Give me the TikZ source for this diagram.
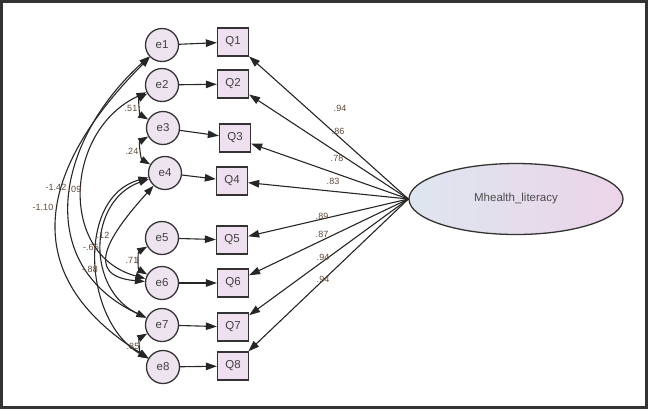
\documentclass[tikz,border=0pt]{standalone}
\usepackage{fontspec}
\setmainfont{Liberation Sans}
\usetikzlibrary{arrows.meta,shapes.geometric}
\definecolor{errfill}{RGB}{238,228,240}
\definecolor{boxfill}{RGB}{238,224,238}
\definecolor{latleft}{RGB}{222,230,240}
\definecolor{latright}{RGB}{236,212,232}
\definecolor{coeftext}{RGB}{95,72,56}
\tikzset{
	errnode/.style={circle, draw=black!80, line width=1.3pt, fill=errfill, minimum size=33pt, inner sep=0pt, text=black!75, font=\fontsize{11.5}{11.5}\selectfont},
	itembox/.style={rectangle, draw=black!80, line width=1.3pt, fill=boxfill, minimum width=31pt, minimum height=28pt, inner sep=0pt, text=black!75, font=\fontsize{11.5}{11.5}\selectfont},
	latent/.style={ellipse, draw=black!80, line width=1.3pt, left color=latleft, right color=latright, minimum width=214pt, minimum height=71pt, inner sep=0pt, text=black!70, font=\fontsize{11.5}{11.5}\selectfont},
	regarrow/.style={-{Triangle[length=11pt,width=7.5pt]}, line width=1.1pt, black!85},
	covarrow/.style={{Triangle[length=10pt,width=7pt]}-{Triangle[length=10pt,width=7pt]}, line width=1.1pt, black!85},
	coef/.style={inner sep=0pt, text=coeftext, font=\fontsize{9}{9}\selectfont}
}

\begin{document}
\begin{tikzpicture}[x=1pt, y=-1pt]
		%%%%% START %%%%%
		\useasboundingbox (0,0) rectangle (650,410);
		\draw[line width=3pt, black!80] (1.5,1.5) rectangle (646.5,407.5);
		
		% error terms
		\node[errnode] (e1) at (162,45) {e1};
		\node[errnode] (e2) at (162,85) {e2};
		\node[errnode] (e3) at (163,128) {e3};
		\node[errnode] (e4) at (165,173) {e4};
		\node[errnode] (e5) at (162,238) {e5};
		\node[errnode] (e6) at (162,283) {e6};
		\node[errnode] (e7) at (162,325) {e7};
		\node[errnode] (e8) at (163,367) {e8};
		
		% items
		\node[itembox] (Q1) at (233,42) {Q1};
		\node[itembox] (Q2) at (233,84) {Q2};
		\node[itembox] (Q3) at (235,138) {Q3};
		\node[itembox] (Q4) at (232,181) {Q4};
		\node[itembox] (Q5) at (232,240) {Q5};
		\node[itembox] (Q6) at (233,283) {Q6};
		\node[itembox] (Q7) at (233,327) {Q7};
		\node[itembox] (Q8) at (233,366) {Q8};
		
		\node[latent] (M) at (516,199) {Mhealth\_literacy};
		
		\draw[regarrow] (e1) -- (Q1);
		\draw[regarrow] (e2) -- (Q2);
		\draw[regarrow] (e3) -- (Q3);
		\draw[regarrow] (e4) -- (Q4);
		\draw[regarrow] (e5) -- (Q5);
		\draw[regarrow] (e6) -- (Q6);
		\draw[regarrow] (e7) -- (Q7);
		\draw[regarrow] (e8) -- (Q8);
		
		\draw[regarrow] (M.west) -- (Q1);
		\draw[regarrow] (M.west) -- (Q2);
		\draw[regarrow] (M.west) -- (Q3);
		\draw[regarrow] (M.west) -- (Q4);
		\draw[regarrow] (M.west) -- (Q5);
		\draw[regarrow] (M.west) -- (Q6);
		\draw[regarrow] (M.west) -- (Q7);
		\draw[regarrow] (M.west) -- (Q8);
		
		\node[coef] (w1) at (340,108) {.94};
		\node[coef] (w2) at (338,131) {.86};
		\node[coef] (w3) at (337,158) {.78};
		\node[coef] (w4) at (333,181) {.83};
		\node[coef] (w5) at (322,216) {.89};
		\node[coef] (w6) at (322,234) {.87};
		\node[coef] (w7) at (323,257) {.94};
		\node[coef] (w8) at (323,279) {.94};
		
		% covariances
		\draw[covarrow] (e2) to[out=210, in=150] (e3);
		\draw[covarrow] (e3) to[out=210, in=150] (e4);
		\draw[covarrow] (e5) to[out=210, in=150] (e6);
		\draw[covarrow] (e7) to[out=210, in=150] (e8);
		
		\draw[covarrow] (e1) to[out=225, in=148, looseness=1.34] (e8);
		\draw[covarrow] (e1) to[out=222, in=155, looseness=1.23] (e7);
		\draw[covarrow] (e2) to[out=205, in=165, looseness=1.24] (e6);
		\draw[covarrow] (e4) to[out=228, in=175, looseness=1.7] (e6);
		\draw[covarrow] (e4) to[out=200, in=155, looseness=1.21] (e7);
		\draw[covarrow] (e4) to[out=195, in=150, looseness=1.06] (e8);
		
		\node[coef] (c1) at (131,108) {.51};
		\node[coef] (c2) at (132,151) {.24};
		\node[coef] (c3) at (132,260) {.71};
		\node[coef] (c4) at (133,346) {.85};
		\node[coef] (c5) at (56,187) {-1.42};
		\node[coef] (c6) at (75,189) {.09};
		\node[coef] (c7) at (43,207) {-1.10};
		\node[coef] (c8) at (103,235) {.12};
		\node[coef] (c9) at (91,247) {-.65};
		\node[coef] (c10) at (90,269) {-.88};
		%%%%% END %%%%%
\end{tikzpicture}
\end{document}
